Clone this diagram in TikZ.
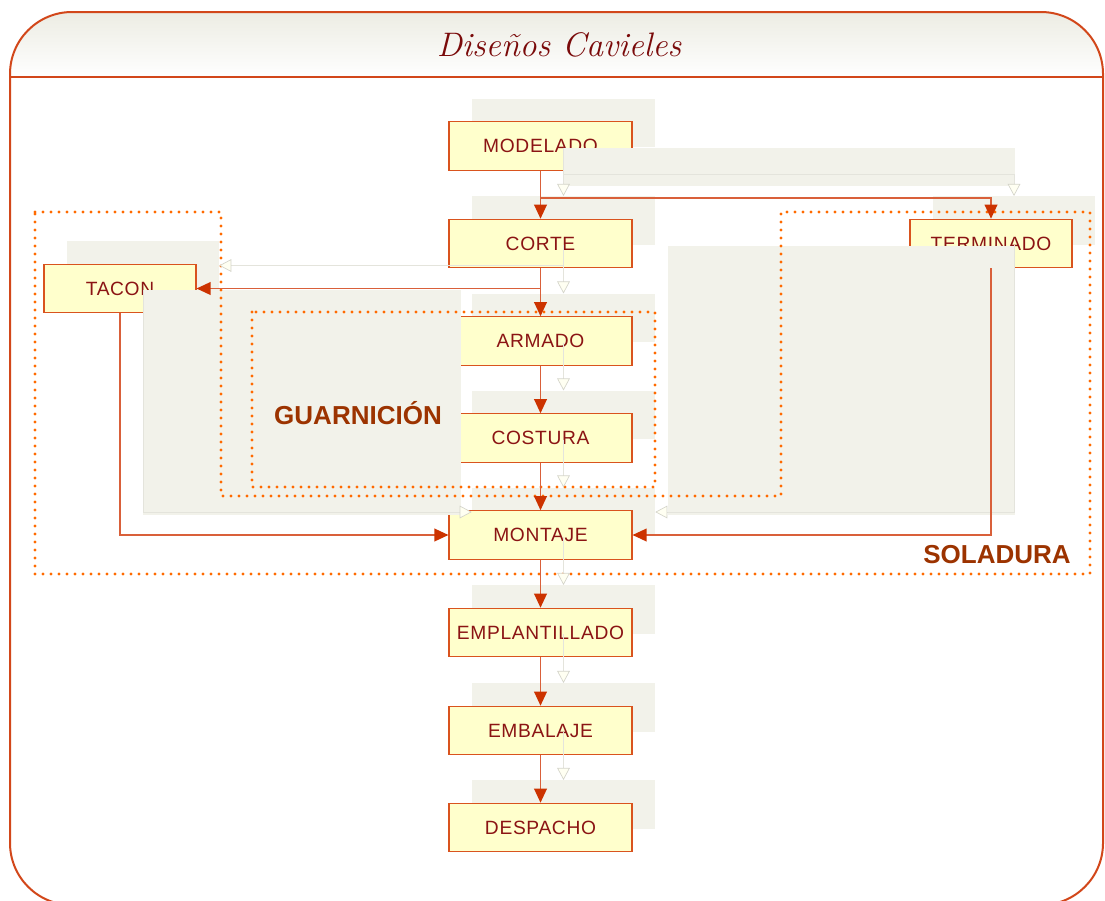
\documentclass[tikz,border=0pt]{standalone}
\usepackage{fontspec}
\newfontfamily\boxfont{Liberation Sans}[LetterSpace=3.5]
\newfontfamily\labelfont{Liberation Sans}
\usetikzlibrary{arrows.meta}

\definecolor{frameclr}{HTML}{D2471A}
\definecolor{headtop}{HTML}{ECECE3}
\definecolor{titleclr}{HTML}{7A0A0A}
\definecolor{boxfill}{HTML}{FFFFCC}
\definecolor{boxline}{HTML}{D9531E}
\definecolor{boxtext}{HTML}{8B1414}
\definecolor{backgray}{HTML}{F2F2EA}
\definecolor{flow}{HTML}{D9603A}
\definecolor{tipclr}{HTML}{CC3300}
\definecolor{zone}{HTML}{FF6A00}
\definecolor{zonetext}{HTML}{9C3300}
\definecolor{ghostline}{HTML}{E4E4DC}
\definecolor{ghostedge}{HTML}{D4D4CA}
\definecolor{ghostfill}{HTML}{FFFFF2}

\tikzset{
  stepbox/.style={draw=boxline, fill=boxfill, line width=0.8pt, inner sep=0pt,
    minimum width=137.25pt, minimum height=36.4pt, text=boxtext,
    font=\boxfont\fontsize{14.4}{16}\selectfont},
  shadowbox/.style={fill=backgray, draw=none, inner sep=0pt,
    minimum width=137.25pt, minimum height=36.4pt},
  flowline/.style={draw=flow, line width=1.1pt,
    -{Triangle[length=10.5pt,width=9.5pt,color=tipclr]}},
  ghostarrow/.style={draw=ghostline, line width=0.5pt,
    -{Triangle[length=9pt,width=9.5pt,fill=ghostfill,color=ghostedge,line width=0.5pt]}},
  zoneline/.style={draw=zone, line width=2.3pt, line cap=round, dash pattern=on 0pt off 6pt},
  zonelabel/.style={text=zonetext, font=\labelfont\bfseries\fontsize{19.5}{22}\selectfont, inner sep=0pt},
  frameline/.style={draw=frameclr, line width=1.5pt}
}

\begin{document}
\begin{tikzpicture}[x=0.75pt,y=-0.75pt]
\useasboundingbox (0,0) rectangle (1105,900);
\clip (0,0) rectangle (1105,900);

% header band with soft gradient
\begin{scope}
  \clip[rounded corners=46.5pt] (10,905) rectangle (1103,12);
  \shade[top color=headtop, bottom color=white] (0,12) rectangle (1105,77);
\end{scope}
\draw[frameline, rounded corners=46.5pt] (10,905) rectangle (1103,12);
\draw[frameline] (10,77) -- (1103,77);
\node[text=titleclr, font=\itshape\fontsize{25.5}{30}\selectfont, inner sep=0pt] (title) at (559,45) {Diseños Cavieles};

% offset copies of the process boxes
\node[shadowbox] (g-modelado) at (563.5,123) {};
\node[shadowbox] (g-corte) at (563.5,220.5) {};
\node[shadowbox] (g-armado) at (563.5,318) {};
\node[shadowbox] (g-costura) at (563.5,415) {};
\node[shadowbox] (g-montaje) at (563.5,512) {};
\node[shadowbox] (g-emplant) at (563.5,609.5) {};
\node[shadowbox] (g-embalaje) at (563.5,707.5) {};
\node[shadowbox] (g-despacho) at (563.5,804.5) {};
\node[shadowbox, minimum width=114pt] (g-tacon) at (143,265.5) {};
\node[shadowbox, minimum width=121.5pt] (g-terminado) at (1014,220.5) {};

% process boxes
\node[stepbox] (modelado) at (540.5,146) {MODELADO};
\node[stepbox] (corte) at (540.5,243.5) {CORTE};
\node[stepbox] (armado) at (540.5,341) {ARMADO};
\node[stepbox] (costura) at (540.5,438) {COSTURA};
\node[stepbox] (montaje) at (540.5,535) {MONTAJE};
\node[stepbox] (emplant) at (540.5,632.5) {EMPLANTILLADO};
\node[stepbox] (embalaje) at (540.5,730.5) {EMBALAJE};
\node[stepbox] (despacho) at (540.5,827.5) {DESPACHO};
\node[stepbox, minimum width=114pt] (tacon) at (120,288.5) {TACON};
\node[stepbox, minimum width=121.5pt] (terminado) at (991,243.5) {TERMINADO};

% grey areas behind the elbow connectors
\fill[backgray] (564,148) rectangle (1015,186);
\fill[backgray] (143,290) rectangle (461,515);
\fill[backgray] (668,246) rectangle (1015,515);

% work zones
\draw[zoneline] (35,212) -- (221,212) -- (221,496) -- (781,496) -- (781,212)
  -- (1090,212) -- (1090,574) -- (35,574) -- cycle;
\draw[zoneline] (252,312) rectangle (655,487);
\node[zonelabel] (guarn) at (358,413) {GUARNICIÓN};
\node[zonelabel] (solad) at (997,555) {SOLADURA};

% faint offset connectors
\draw[ghostarrow] (g-modelado.south) -- (g-corte.north);
\draw[ghostarrow] (g-modelado.south) -- ++(0,27) -| (g-terminado.north);
\draw[ghostarrow] (g-corte.south) -- (g-armado.north);
\draw[ghostarrow] (g-corte.south) |- (g-tacon.east);
\draw[ghostarrow] (g-armado.south) -- (g-costura.north);
\draw[ghostarrow] (g-costura.south) -- (g-montaje.north);
\draw[ghostarrow] (g-tacon.south) |- (g-montaje.west);
\draw[ghostarrow] (g-terminado.south) |- (g-montaje.east);
\draw[ghostarrow] (g-montaje.south) -- (g-emplant.north);
\draw[ghostarrow] (g-emplant.south) -- (g-embalaje.north);
\draw[ghostarrow] (g-embalaje.south) -- (g-despacho.north);

% process flow
\draw[flowline] (modelado.south) -- (corte.north);
\draw[flowline] (modelado.south) -- ++(0,27) -| (terminado.north);
\draw[flowline] (corte.south) -- (armado.north);
\draw[flowline] (corte.south) |- (tacon.east);
\draw[flowline] (armado.south) -- (costura.north);
\draw[flowline] (costura.south) -- (montaje.north);
\draw[flowline] (tacon.south) |- (montaje.west);
\draw[flowline] (terminado.south) |- (montaje.east);
\draw[flowline] (montaje.south) -- (emplant.north);
\draw[flowline] (emplant.south) -- (embalaje.north);
\draw[flowline] (embalaje.south) -- (despacho.north);
\end{tikzpicture}
\end{document}
